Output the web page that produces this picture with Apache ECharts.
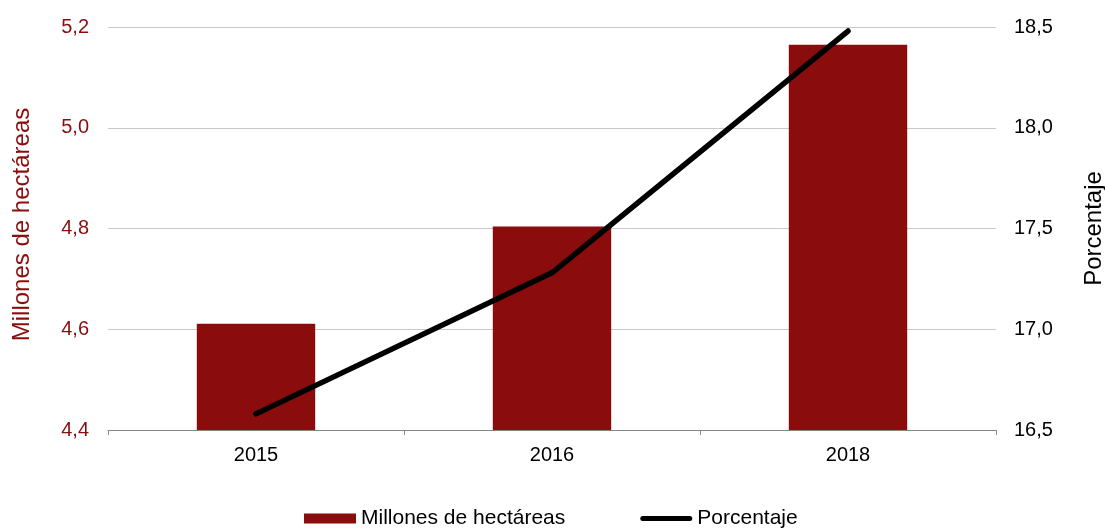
<!DOCTYPE html>
<html>
<head>
<meta charset="utf-8">
<script src="https://cdn.jsdelivr.net/npm/echarts@6/dist/echarts.min.js"></script>
<style>
  html, body { margin: 0; padding: 0; background: #fff; }
  #chart { width: 1105px; height: 530px; }
</style>
</head>
<body>
<div id="chart"></div>
<script>
const years = ["2015", "2016", "2018"];
const hectareas = [4.611, 4.804, 5.165];
const porcentaje = [16.58, 17.28, 18.48];
const leftTicks = [4.4, 5.2, 0.2];
const rightTicks = [16.5, 18.5, 0.5];

const font = "'Liberation Sans', Arial, sans-serif";
const red = "#8b0c0c";
const fmt = (v) => v.toFixed(1).replace(".", ",");

const chart = echarts.init(document.getElementById("chart"));

chart.setOption({
  animation: false,
  textStyle: { fontFamily: font },
  grid: { left: 108, right: 109, top: 27, bottom: 100, outerBoundsMode: "none" },
  legend: {
    top: 503,
    left: 299,
    itemGap: 75,
    itemWidth: 52,
    itemHeight: 10,
    textStyle: { fontFamily: font, fontSize: 21, color: "#000" },
    data: [
      { name: "Millones de hectáreas", icon: "rect" },
      { name: "Porcentaje", icon: "path://M2.5,0 L49.5,0 A2.5,2.5 0 0 1 49.5,5 L2.5,5 A2.5,2.5 0 0 1 2.5,0 Z" },
    ],
  },
  xAxis: {
    type: "category",
    data: years,
    axisLine: { lineStyle: { color: "#868686", width: 1 } },
    axisTick: { show: true, alignWithLabel: false, length: 5, lineStyle: { color: "#868686" } },
    axisLabel: { color: "#000", fontSize: 20, margin: 15, fontFamily: font },
  },
  yAxis: [
    {
      type: "value",
      min: leftTicks[0],
      max: leftTicks[1],
      interval: leftTicks[2],
      name: "Millones de hectáreas",
      nameLocation: "middle",
      nameGap: 74,
      nameTextStyle: { color: red, fontSize: 24, fontFamily: font, padding: [0, 0, 0, 8] },
      axisLine: { show: false },
      axisTick: { show: false },
      axisLabel: { color: red, fontSize: 20, margin: 19, formatter: fmt, fontFamily: font },
      splitLine: { lineStyle: { color: "#c8c8c8", width: 1 } },
    },
    {
      type: "value",
      min: rightTicks[0],
      max: rightTicks[1],
      interval: rightTicks[2],
      name: "Porcentaje",
      nameLocation: "middle",
      nameGap: 86,
      nameRotate: 90,
      nameTextStyle: { color: "#000", fontSize: 24, fontFamily: font },
      axisLine: { show: false },
      axisTick: { show: false },
      axisLabel: { color: "#000", fontSize: 20, margin: 18, formatter: fmt, fontFamily: font },
      splitLine: { show: false },
    },
  ],
  series: [
    {
      name: "Millones de hectáreas",
      type: "bar",
      yAxisIndex: 0,
      data: hectareas,
      barWidth: "40%",
      itemStyle: { color: red },
    },
    {
      name: "Porcentaje",
      type: "line",
      yAxisIndex: 1,
      data: porcentaje,
      symbol: "none",
      lineStyle: { color: "#000", width: 5.5, cap: "round" },
      itemStyle: { color: "#000" },
    },
  ],
});
</script>
</body>
</html>
